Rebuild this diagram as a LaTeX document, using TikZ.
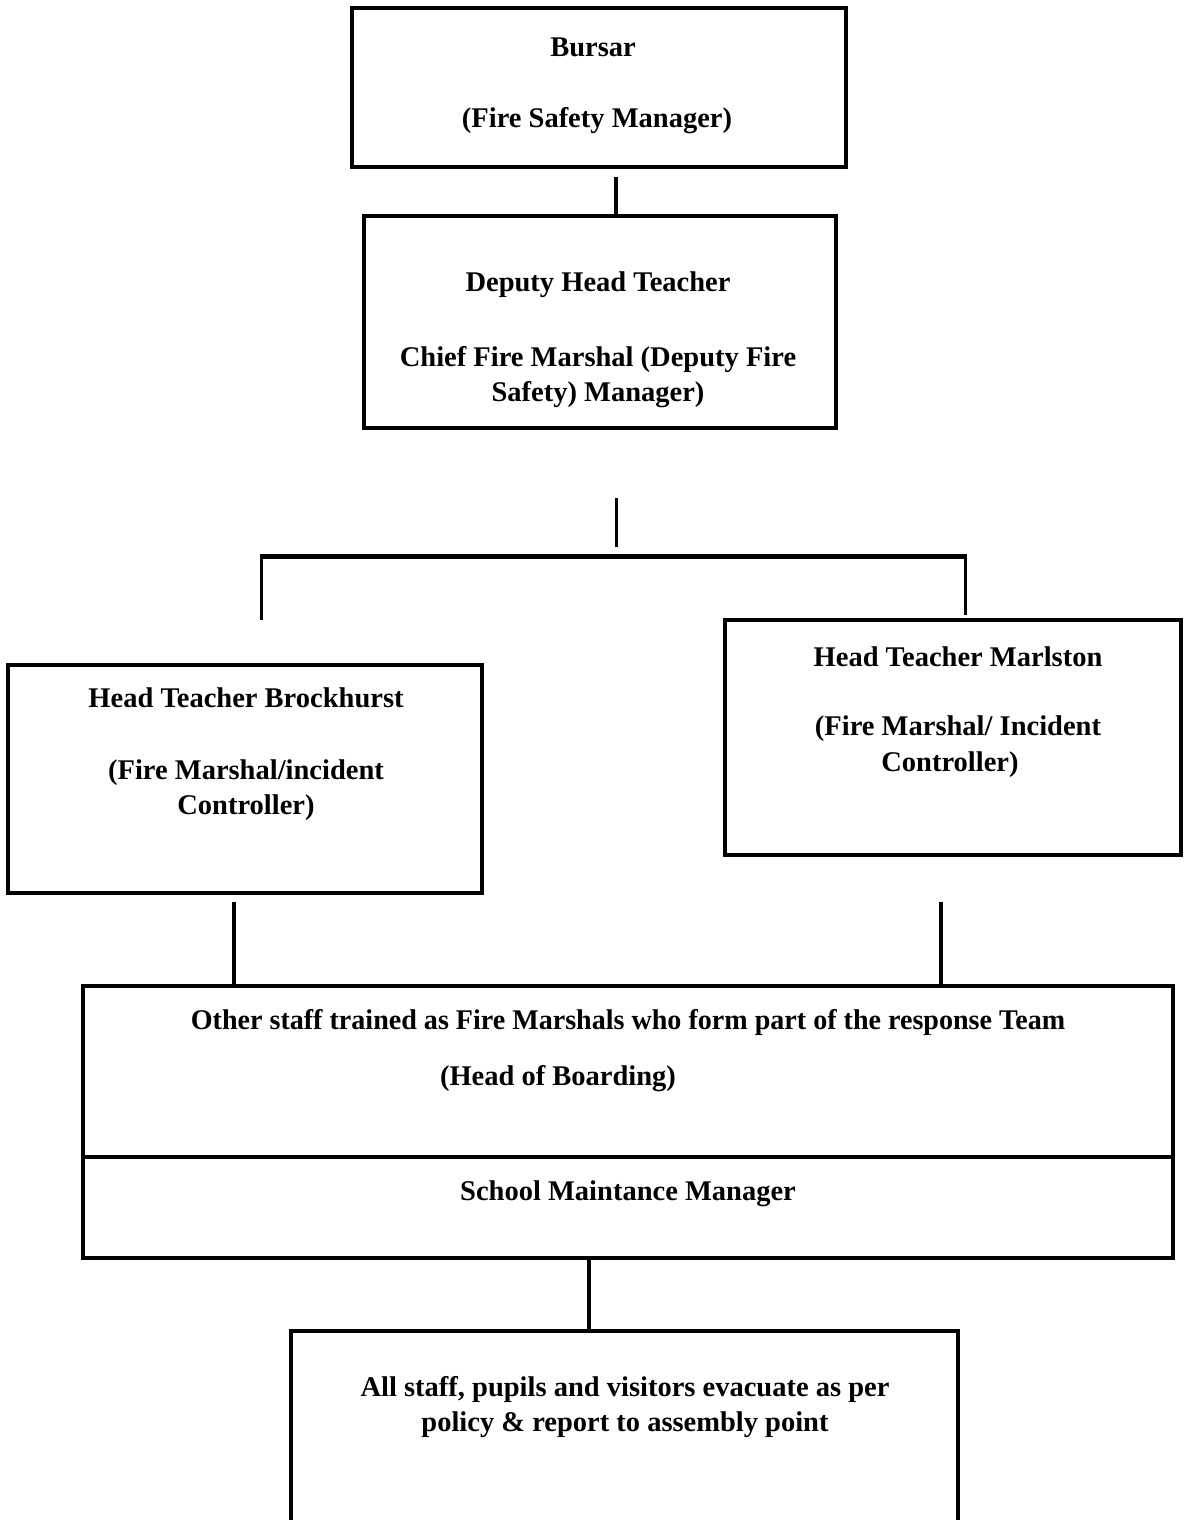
\documentclass[tikz,border=0pt]{standalone}
\usepackage{fontspec}
\setmainfont{Liberation Serif}
\usetikzlibrary{calc}
\tikzset{
  box/.style={draw=black, line width=4pt, rectangle, inner sep=0pt},
  lbl/.style={font=\bfseries\fontsize{28.5}{33}\selectfont, inner sep=0pt, anchor=center},
  conn/.style={draw=black, line width=4pt},
  thinconn/.style={draw=black, line width=3pt}
}
\begin{document}
\begin{tikzpicture}[x=1pt,y=-1pt]
\useasboundingbox (0,0) rectangle (1183,1520);
\clip (0,0) rectangle (1183,1520);
% boxes
\node[box, minimum width=494pt, minimum height=159pt] (bursar) at (599,87.5) {};
\node[box, minimum width=472pt, minimum height=212pt] (deputy) at (600,322) {};
\node[box, minimum width=474pt, minimum height=228pt] (brock) at (245,779) {};
\node[box, minimum width=456pt, minimum height=235pt] (marl) at (953,737.5) {};
\node[box, minimum width=1090pt, minimum height=171pt] (other) at (628,1071.5) {};
\node[box, minimum width=1090pt, minimum height=101pt] (maint) at (628,1207.5) {};
\node[box, minimum width=667pt, minimum height=240pt] (all) at (624.5,1451) {};
% texts
\node[lbl] (t1) at (593,47) {Bursar};
\node[lbl] (t2) at (597,121) {(Fire Safety Manager)};
\node[lbl] (t3) at (598,285) {Deputy Head Teacher};
\node[lbl] (t4) at (598,360) {Chief Fire Marshal (Deputy Fire};
\node[lbl] (t5) at (598,395) {Safety) Manager)};
\node[lbl] (t6) at (246,698) {Head Teacher Brockhurst};
\node[lbl] (t7) at (246,773) {(Fire Marshal/incident};
\node[lbl] (t8) at (246,808) {Controller)};
\node[lbl] (t9) at (958,657) {Head Teacher Marlston};
\node[lbl] (t10) at (958,729) {(Fire Marshal/ Incident};
\node[lbl] (t11) at (950,765) {Controller)};
\node[lbl] (t12) at (628,1022) {\scalebox{0.985}[1]{Other staff trained as Fire Marshals who form part of the response Team}};
\node[lbl] (t13) at (558,1079) {(Head of Boarding)};
\node[lbl] (t14) at (628,1194) {School Maintance Manager};
\node[lbl] (t15) at (625,1389) {All staff, pupils and visitors evacuate as per};
\node[lbl] (t16) at (625,1425) {policy \& report to assembly point};
% connectors
\coordinate (j) at (616,556);
\coordinate (jt) at (616,498);
\coordinate (jl) at (261,556);
\coordinate (jr) at (965,556);
\coordinate (dl) at (261,620);
\coordinate (dr) at (965,615);
\draw[conn] ([xshift=17pt,yshift=-8pt]bursar.south) -- ([xshift=16pt]deputy.north);
\draw[thinconn] (jt) -- ([yshift=9pt]j);
\draw[draw=black, line width=5pt] ([xshift=-1.5pt]jl) -- ([xshift=1.5pt]jr);
\draw[thinconn] (jl) -- (dl);
\draw[thinconn] (jr) -- (dr);
\draw[conn] ([yshift=-7pt]brock.south -| 234,0) -- (other.north -| 234,0);
\draw[conn] ([yshift=-45pt]marl.south -| 941,0) -- (other.north -| 941,0);
\draw[conn] (maint.south -| 589,0) -- (all.north -| 589,0);
\end{tikzpicture}
\end{document}
